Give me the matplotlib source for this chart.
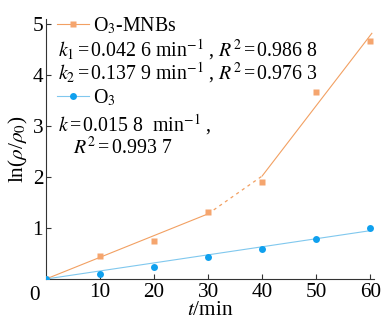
import matplotlib
matplotlib.use("Agg")
import matplotlib.pyplot as plt
import numpy as np
from matplotlib.lines import Line2D

plt.rcParams['font.family'] = ['Liberation Serif', 'DejaVu Serif']
plt.rcParams['mathtext.fontset'] = 'stix'

# data
t = [0, 10, 20, 30, 40, 50, 60]
mnbs = [0.0, 0.445, 0.745, 1.31, 1.91, 3.67, 4.67]
o3 = [0.0, 0.09, 0.23, 0.43, 0.59, 0.79, 1.0]
k1, k2, k = 0.0426, 0.1379, 0.0158
seg2_start = 2.02   # value of second fit at t=40
xticks = [10, 20, 30, 40, 50, 60]
yticks = [1, 2, 3, 4, 5]

c_or_m = '#F5A56E'
c_or_l = '#F2A062'
c_bl_m = '#0FA0EE'
c_bl_l = '#80C8EE'

fig = plt.figure(figsize=(3.86, 3.2), dpi=100)
ax = fig.add_axes([46/386, 1-279/320, 328/386, 260/320])

# fits
t1 = np.array([0, 30])
ax.plot(t1, k1*t1, color=c_or_l, lw=0.8)
ax.plot([30, 40], [k1*30, seg2_start], color=c_or_l, lw=0.9, ls=(0, (2.5, 3)))
t2 = np.array([40, 60.3])
ax.plot(t2, seg2_start + k2*(t2-40), color=c_or_l, lw=0.8)
t3 = np.array([0, 60.3])
ax.plot(t3, k*t3, color=c_bl_l, lw=0.8)

ax.plot(t, mnbs, ls='none', marker='s', ms=4.2, color=c_or_m, mec='none', zorder=3)
ax.plot(t, o3, ls='none', marker='o', ms=5, color=c_bl_m, mec='none', zorder=3)

tfs = 15.3
ax.set_xlim(0, 60.7)
ax.set_ylim(0, 5.1)
ax.set_xticks(xticks)
ax.set_yticks(yticks)
ax.spines['top'].set_visible(False)
ax.spines['right'].set_visible(False)
for s in ['left', 'bottom']:
    ax.spines[s].set_linewidth(0.8)
    ax.spines[s].set_color('#333333')
ax.tick_params(direction='in', length=3.5, width=0.8, labelsize=tfs, color='#333333')
ax.tick_params(axis='x', pad=3)
ax.tick_params(axis='y', pad=2)
ax.text(-0.02, -0.025, '0', transform=ax.transAxes, ha='right', va='top', fontsize=tfs)

ax.set_xlabel(r'$t$/min', fontsize=tfs)
ax.xaxis.set_label_coords(0.5, -0.085)
ax.set_ylabel(r'ln($\rho$/$\rho_0$)', fontsize=tfs, labelpad=2)

fs = 14.3
h1 = Line2D([], [], color=c_or_l, lw=0.8, marker='s', ms=4.2, mfc=c_or_m, mec='none')
h2 = Line2D([], [], color=c_bl_l, lw=0.8, marker='o', ms=5, mfc=c_bl_m, mec='none')
leg1 = ax.legend([h1], [r'O$_3$-MNBs'], loc='center left', bbox_to_anchor=(0.034, 0.975),
                 frameon=False, borderpad=0, borderaxespad=0, handlelength=1.6,
                 handletextpad=0.2, fontsize=fs)
ax.add_artist(leg1)
ax.legend([h2], [r'O$_3$'], loc='center left', bbox_to_anchor=(0.034, 0.696),
          frameon=False, borderpad=0, borderaxespad=0, handlelength=1.6,
          handletextpad=0.2, fontsize=fs)

ax.text(0.037, 0.881, r'$k_1\,$=$\,$0.042 6 min$^{-1}$ , $R^2\,$=$\,$0.986 8', transform=ax.transAxes,
        ha='left', va='center', fontsize=fs)
ax.text(0.037, 0.792, r'$k_2\,$=$\,$0.137 9 min$^{-1}$ , $R^2\,$=$\,$0.976 3', transform=ax.transAxes,
        ha='left', va='center', fontsize=fs)
ax.text(0.037, 0.592, r'$k\,$=$\,$0.015 8  min$^{-1}$ ,', transform=ax.transAxes,
        ha='left', va='center', fontsize=fs)
ax.text(0.082, 0.504, r'$R^2\,$=$\,$0.993 7', transform=ax.transAxes,
        ha='left', va='center', fontsize=fs)

fig.savefig('out.png', dpi=100)
